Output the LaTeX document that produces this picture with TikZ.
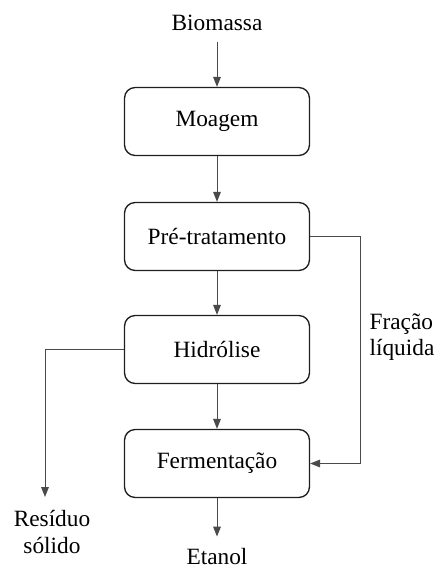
\documentclass[tikz,border=0pt]{standalone}
\usepackage{fontspec}
\setmainfont{Liberation Serif}
\newfontfamily\tnr{Liberation Serif}
\usepackage{tikz}
\usetikzlibrary{arrows.meta}
\definecolor{cink}{HTML}{1E1E1E}
\definecolor{cline}{HTML}{4A4A4A}
\newlength{\pxu}\setlength{\pxu}{0.75pt}
\tikzset{>={Triangle[length=2.6mm,width=2.0mm]},
  proc/.style={rounded corners=8pt,draw=cink,line width=1.0pt,minimum width=185\pxu,minimum height=68\pxu,font=\tnr\fontsize{17.5}{20}\selectfont},
  lbl/.style={font=\tnr\fontsize{17.5}{20}\selectfont,inner sep=1pt},
  flow/.style={->,draw=cline,line width=0.75pt}}

\begin{document}
\begin{tikzpicture}[x=0.75pt,y=-0.75pt]
\useasboundingbox (0,0) rectangle (437,570);

% ================= main chain =================
\node[lbl] (bio) at (217,23) {Biomassa};
\node[proc] (moa) at (217,121.5) {Moagem};
\node[proc] (pre) at (217,236.5) {Pré-tratamento};
\node[proc] (hid) at (217,349.5) {Hidrólise};
\node[proc] (fer) at (217,463.5) {Fermentação};
\node[lbl] (eta) at (217,557) {Etanol};

\draw[flow,shorten <=7pt] (bio) -- (moa);
\draw[flow] (moa) -- (pre);
\draw[flow] (pre) -- (hid);
\draw[flow] (hid) -- (fer);
\draw[flow,shorten >=8pt] (fer) -- (eta);

% ================= side streams =================
\coordinate (rtop) at (360,236.5);
\coordinate (rbot) at (360,463.5);
\draw[flow] (pre.east) -- (rtop) -- (rbot) -- (fer.east);
\node[lbl,anchor=west,align=left] (liq) at (368,337) {Fração\\líquida};

\coordinate (ltop) at (45,349.5);
\coordinate (lend) at (45,497);
\draw[flow] (hid.west) -- (ltop) -- (lend);
\node[lbl,align=center] (res) at (52,532) {Resíduo\\sólido};

\end{tikzpicture}
\end{document}
